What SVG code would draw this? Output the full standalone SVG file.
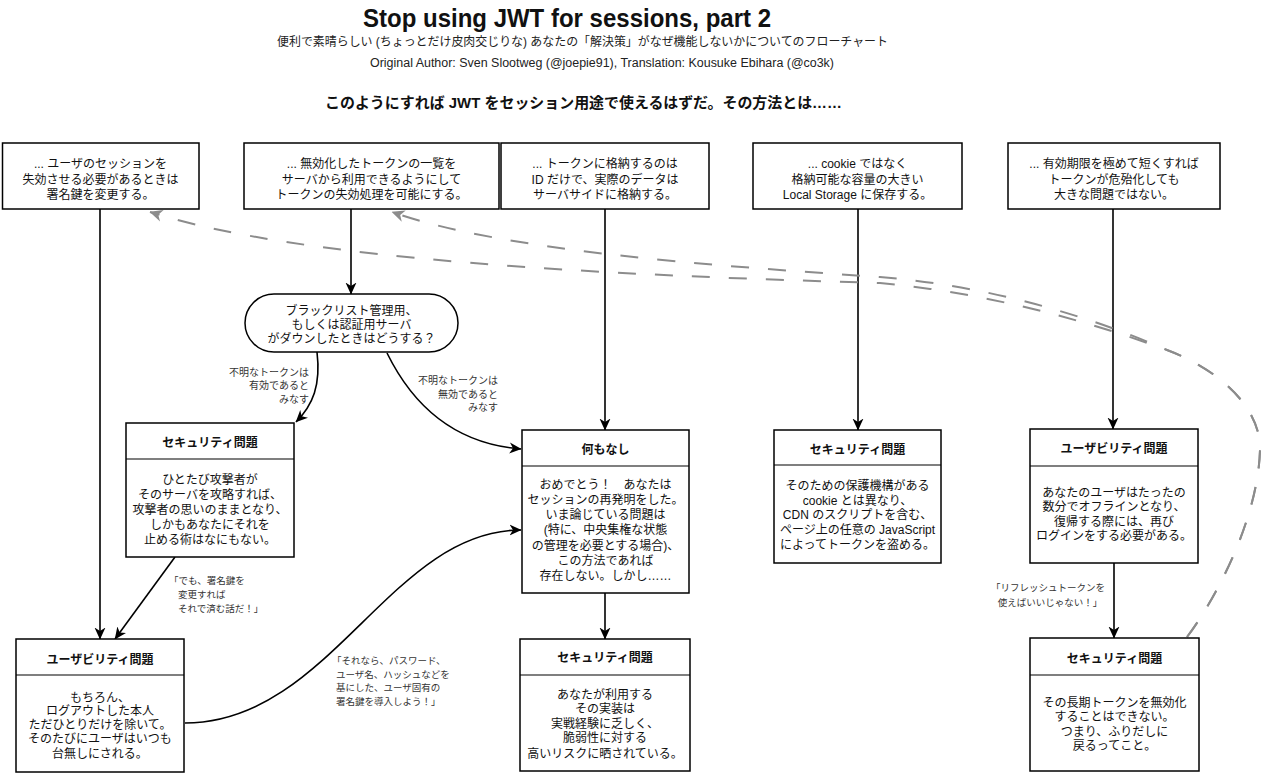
<svg xmlns="http://www.w3.org/2000/svg" width="1267" height="784" viewBox="0 0 1267 784">
<style>
.box{fill:#fff;stroke:#000;stroke-width:1.5}
.div{stroke:#000;stroke-width:1.2}
.t{font-family:"Liberation Sans","Noto Sans CJK JP",sans-serif;font-size:12px;fill:#111;text-anchor:middle}
.b{font-weight:bold}
.lbl{font-family:"Liberation Sans","Noto Sans CJK JP",sans-serif;font-size:9.5px;fill:#333}
.lblr{text-anchor:end;font-size:10px}
.e{fill:none;stroke:#000;stroke-width:1.6}
.d{fill:none;stroke:#8c8c8c;stroke-width:2;stroke-dasharray:18 19}
</style>
<defs>
<marker id="arr" viewBox="0 0 12 12" refX="11.5" refY="6" markerWidth="12" markerHeight="12" markerUnits="userSpaceOnUse" orient="auto"><path d="M0,0.5 L12,6 L0,11.5 L3.5,6 Z" fill="#000"/></marker>
<marker id="arrg" viewBox="0 0 12 12" refX="11.5" refY="6" markerWidth="13" markerHeight="13" markerUnits="userSpaceOnUse" orient="auto"><path d="M0,0.5 L12,6 L0,11.5 L3.5,6 Z" fill="#8c8c8c"/></marker>
</defs>
<rect width="1267" height="784" fill="#fff"/>

<g id="header">
<text x="363" y="26.5" font-family="Liberation Sans,Arial,sans-serif" font-weight="bold" font-size="26" textLength="408" lengthAdjust="spacingAndGlyphs" fill="#111">Stop using JWT for sessions, part 2</text>
<text x="277" y="45.5" font-family="Liberation Sans,Noto Sans CJK JP,sans-serif" font-size="12" textLength="611" lengthAdjust="spacingAndGlyphs" fill="#222">便利で素晴らしい (ちょっとだけ皮肉交じりな) あなたの「解決策」がなぜ機能しないかについてのフローチャート</text>
<text x="370" y="66.5" font-family="Liberation Sans,Noto Sans CJK JP,sans-serif" font-size="12.5" textLength="464" lengthAdjust="spacingAndGlyphs" fill="#222">Original Author: Sven Slootweg (@joepie91), Translation: Kousuke Ebihara (@co3k)</text>
<text x="325" y="107.5" font-family="Liberation Sans,Noto Sans CJK JP,sans-serif" font-weight="bold" font-size="15" textLength="517" lengthAdjust="spacingAndGlyphs" fill="#111">このようにすれば JWT をセッション用途で使えるはずだ。その方法とは……</text>
</g>

<g id="connectors">
<path class="e" d="M100,209 L100,639" marker-end="url(#arr)"/>
<path class="e" d="M351,209 L351,294" marker-end="url(#arr)"/>
<path class="e" d="M605,209 L605,430" marker-end="url(#arr)"/>
<path class="e" d="M858,209 L858,430" marker-end="url(#arr)"/>
<path class="e" d="M1113,209 L1113,429" marker-end="url(#arr)"/>
<path class="e" d="M605,593 L605,639" marker-end="url(#arr)"/>
<path class="e" d="M1114,563 L1114,638" marker-end="url(#arr)"/>
<path class="e" d="M317,352 C321,385 313,405 296,422" marker-end="url(#arr)"/>
<path class="e" d="M387,353 C420,420 470,445 521,449" marker-end="url(#arr)"/>
<path class="e" d="M175,557 L115,639" marker-end="url(#arr)"/>
<path class="e" d="M185,723 C330,723 390,530 521,530" marker-end="url(#arr)"/>
<path class="d" d="M1187,637 C1215,600 1258,520 1260,450 C1261,405 1215,368 1167,350 C1080,318 980,292 880,283 C600,275 300,260 150,212" marker-end="url(#arrg)"/>
<path class="d" d="M1187,637 C1215,600 1258,520 1260,450 C1261,405 1215,368 1167,350 C1080,312 980,285 880,277 C700,265 500,250 392,212" marker-end="url(#arrg)"/>
<text class="lbl lblr" x="309" y="375.5">不明なトークンは</text>
<text class="lbl lblr" x="309" y="389">有効であると</text>
<text class="lbl lblr" x="309" y="402.5">みなす</text>
<text class="lbl lblr" x="498" y="384">不明なトークンは</text>
<text class="lbl lblr" x="498" y="397.5">無効であると</text>
<text class="lbl lblr" x="498" y="411">みなす</text>
<text class="lbl" x="169" y="583.5">「でも、署名鍵を</text>
<text class="lbl" x="178" y="597.5">変更すれば</text>
<text class="lbl" x="178" y="611.5">それで済む話だ！」</text>
<text class="lbl" x="332" y="664">「それなら、パスワード、</text>
<text class="lbl" x="336" y="677.5">ユーザ名、ハッシュなどを</text>
<text class="lbl" x="336" y="691">基にした、ユーザ固有の</text>
<text class="lbl" x="336" y="704.5">署名鍵を導入しよう！」</text>
<text class="lbl" x="1048" y="590.5" text-anchor="middle">「リフレッシュトークンを</text>
<text class="lbl" x="1050" y="605.5" text-anchor="middle">使えばいいじゃない！」</text>
</g>

<g id="top1">
<rect class="box" x="2.5" y="143" width="196.5" height="66"/>
<text class="t" x="100.5" y="168">... ユーザのセッションを</text>
<text class="t" x="100.5" y="183.5">失効させる必要があるときは</text>
<text class="t" x="100.5" y="198.5">署名鍵を変更する。</text>
</g>
<g id="top2">
<rect class="box" x="244" y="143" width="255" height="66"/>
<text class="t" x="371.5" y="168">... 無効化したトークンの一覧を</text>
<text class="t" x="371.5" y="183.5">サーバから利用できるようにして</text>
<text class="t" x="371.5" y="198.5">トークンの失効処理を可能にする。</text>
</g>
<g id="top3">
<rect class="box" x="501" y="143" width="208" height="66"/>
<text class="t" x="605" y="168">... トークンに格納するのは</text>
<text class="t" x="605" y="183.5">ID だけで、実際のデータは</text>
<text class="t" x="605" y="198.5">サーバサイドに格納する。</text>
</g>
<g id="top4">
<rect class="box" x="753" y="143" width="209" height="66"/>
<text class="t" x="857.5" y="168">... cookie ではなく</text>
<text class="t" x="857.5" y="183.5">格納可能な容量の大きい</text>
<text class="t" x="857.5" y="198.5">Local Storage に保存する。</text>
</g>
<g id="top5">
<rect class="box" x="1008" y="143" width="212" height="66"/>
<text class="t" x="1114" y="168">... 有効期限を極めて短くすれば</text>
<text class="t" x="1114" y="183.5">トークンが危殆化しても</text>
<text class="t" x="1114" y="198.5">大きな問題ではない。</text>
</g>

<g id="oval">
<rect class="box" x="245" y="294" width="213" height="58" rx="29" ry="29"/>
<text class="t" x="351.5" y="314.5">ブラックリスト管理用、</text>
<text class="t" x="351.5" y="328.5">もしくは認証用サーバ</text>
<text class="t" x="351.5" y="342.5">がダウンしたときはどうする？</text>
</g>

<g id="sec1">
<rect class="box" x="126" y="423" width="168" height="134"/>
<line class="div" x1="126" y1="459" x2="294" y2="459"/>
<text class="t b" x="210" y="446.5">セキュリティ問題</text>
<text class="t" x="210" y="484">ひとたび攻撃者が</text>
<text class="t" x="210" y="499">そのサーバを攻略すれば、</text>
<text class="t" x="210" y="514">攻撃者の思いのままとなり、</text>
<text class="t" x="210" y="529">しかもあなたにそれを</text>
<text class="t" x="210" y="544">止める術はなにもない。</text>
</g>

<g id="nothing">
<rect class="box" x="522" y="430" width="167" height="163"/>
<line class="div" x1="522" y1="466" x2="689" y2="466"/>
<text class="t b" x="605.5" y="453.5">何もなし</text>
<text class="t" x="605.5" y="488.5">おめでとう！　あなたは</text>
<text class="t" x="605.5" y="503.8">セッションの再発明をした。</text>
<text class="t" x="605.5" y="519.1">いま論じている問題は</text>
<text class="t" x="605.5" y="534.4">(特に、中央集権な状態</text>
<text class="t" x="605.5" y="549.7">の管理を必要とする場合)、</text>
<text class="t" x="605.5" y="565">この方法であれば</text>
<text class="t" x="605.5" y="580.3">存在しない。しかし……</text>
</g>

<g id="sec2">
<rect class="box" x="774" y="430" width="167" height="133"/>
<line class="div" x1="774" y1="465" x2="941" y2="465"/>
<text class="t b" x="857.5" y="453.5">セキュリティ問題</text>
<text class="t" x="857.5" y="489.5">そのための保護機構がある</text>
<text class="t" x="857.5" y="504.5">cookie とは異なり、</text>
<text class="t" x="857.5" y="518.5">CDN のスクリプトを含む、</text>
<text class="t" x="857.5" y="533.5">ページ上の任意の JavaScript</text>
<text class="t" x="857.5" y="548.5">によってトークンを盗める。</text>
</g>

<g id="use2">
<rect class="box" x="1030" y="429" width="168" height="134"/>
<line class="div" x1="1030" y1="466" x2="1198" y2="466"/>
<text class="t b" x="1114" y="452.5">ユーザビリティ問題</text>
<text class="t" x="1114" y="496.5">あなたのユーザはたったの</text>
<text class="t" x="1114" y="511">数分でオフラインとなり、</text>
<text class="t" x="1114" y="525.5">復帰する際には、再び</text>
<text class="t" x="1114" y="540">ログインをする必要がある。</text>
</g>

<g id="use1">
<rect class="box" x="16" y="639" width="168" height="133"/>
<line class="div" x1="16" y1="675" x2="184" y2="675"/>
<text class="t b" x="100" y="663.5">ユーザビリティ問題</text>
<text class="t" x="100" y="701.5">もちろん、</text>
<text class="t" x="100" y="715">ログアウトした本人</text>
<text class="t" x="100" y="729">ただひとりだけを除いて。</text>
<text class="t" x="100" y="743">そのたびにユーザはいつも</text>
<text class="t" x="100" y="757.5">台無しにされる。</text>
</g>

<g id="sec3">
<rect class="box" x="520" y="639" width="170" height="132"/>
<line class="div" x1="520" y1="675" x2="690" y2="675"/>
<text class="t b" x="605" y="661.5">セキュリティ問題</text>
<text class="t" x="605" y="698.5">あなたが利用する</text>
<text class="t" x="605" y="712.5">その実装は</text>
<text class="t" x="605" y="727.5">実戦経験に乏しく、</text>
<text class="t" x="605" y="741.5">脆弱性に対する</text>
<text class="t" x="605" y="757.5">高いリスクに晒されている。</text>
</g>

<g id="sec4">
<rect class="box" x="1030" y="638" width="169" height="133"/>
<line class="div" x1="1030" y1="675" x2="1199" y2="675"/>
<text class="t b" x="1114.5" y="662.5">セキュリティ問題</text>
<text class="t" x="1114.5" y="706.5">その長期トークンを無効化</text>
<text class="t" x="1114.5" y="720.5">することはできない。</text>
<text class="t" x="1114.5" y="735.5">つまり、ふりだしに</text>
<text class="t" x="1114.5" y="749.5">戻るってこと。</text>
</g>
</svg>
